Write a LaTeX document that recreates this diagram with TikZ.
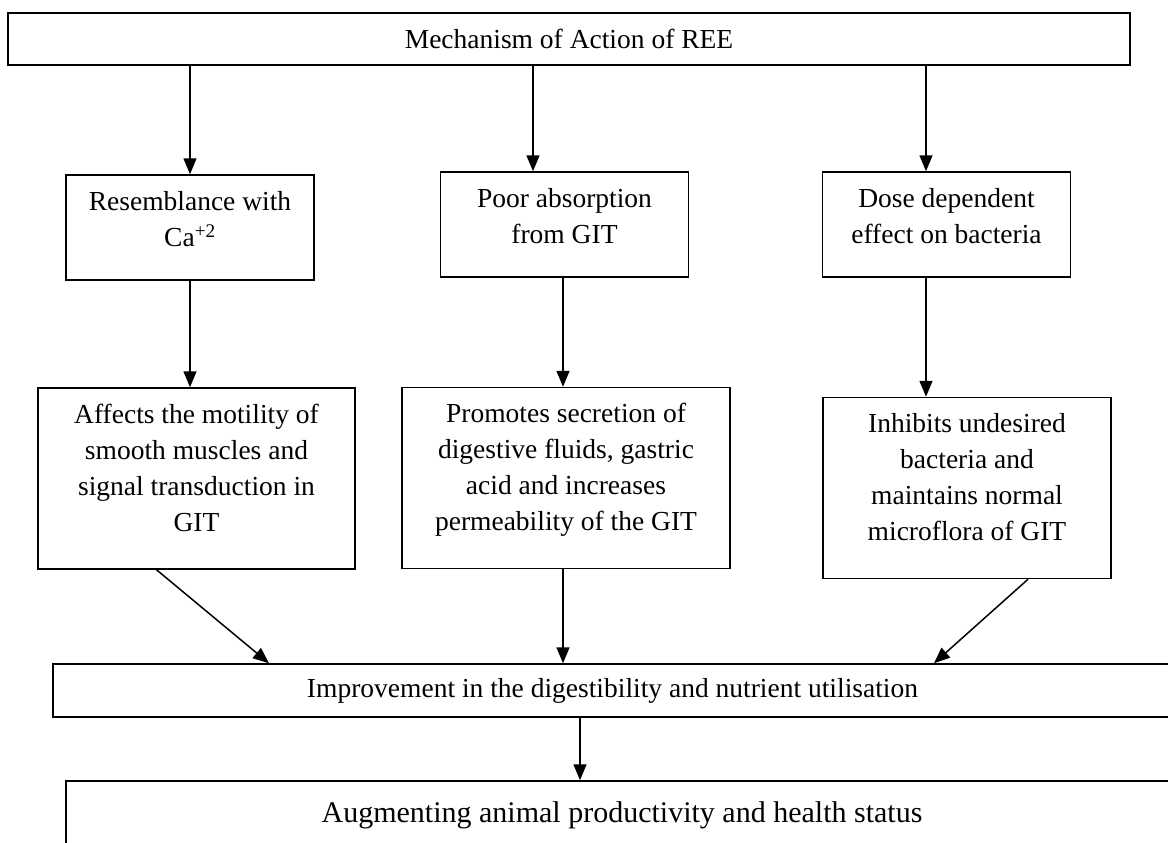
\documentclass[tikz,border=0pt]{standalone}
\usepackage{fontspec}
\setmainfont{Liberation Serif}
\usetikzlibrary{arrows.meta}
\tikzset{
  basebox/.style={draw, rectangle, line width=1.5pt, inner sep=4pt, align=center, font=\fontsize{27.5}{36}\selectfont},
  headnode/.style={basebox, minimum width=1122, minimum height=52},
  causenode/.style={basebox, minimum width=248, minimum height=105, text depth=17},
  effectnode/.style={basebox, minimum height=181, text depth=22},
  resultnode/.style={basebox, minimum width=1119, minimum height=53},
  finalnode/.style={basebox, minimum width=1112, minimum height=69, font=\fontsize{30}{36}\selectfont},
  arrow/.style={-{Triangle[length=16pt, width=13pt]}, line width=1.5pt}
}

\begin{document}
\begin{tikzpicture}[x=1pt, y=-1pt]
\useasboundingbox (0,0) rectangle (1168,843);
\clip (0,0) rectangle (1168,843);

% Nodes
\node[headnode] (REE) at (569,39) {Mechanism of Action of REE};

\node[causenode] (calcium) at (190,227.5) {Resemblance with\\ Ca\textsuperscript{+2}};
\node[causenode] (absorb) at (564.5,224.5) {Poor absorption\\ from GIT};
\node[causenode] (dose) at (946.5,224.5) {Dose dependent\\ effect on bacteria};

\node[effectnode, minimum width=317] (motility) at (196.5,478.5) {Affects the motility of\\ smooth muscles and\\ signal transduction in\\ GIT};
\node[effectnode, minimum width=328] (secretion) at (566,478) {Promotes secretion of\\ digestive fluids, gastric\\ acid and increases\\ permeability of the GIT};
\node[effectnode, minimum width=288] (flora) at (967,488) {Inhibits undesired\\ bacteria and\\ maintains normal\\ microflora of GIT};

\node[resultnode] (digest) at (612.5,690.5) {Improvement in the digestibility and nutrient utilisation};
\node[finalnode] (health) at (622,815.5) {Augmenting animal productivity and health status};

% Connections
\coordinate (absorbIn) at ([xshift=-31.5]absorb.north);
\coordinate (doseIn) at ([xshift=-20.5]dose.north);
\draw[arrow] (REE.south -| calcium.north) -- (calcium.north);
\draw[arrow] (REE.south -| absorbIn) -- (absorbIn);
\draw[arrow] (REE.south -| doseIn) -- (doseIn);

\draw[arrow] (calcium.south) -- (calcium.south |- motility.north);
\draw[arrow] ([xshift=-1.5]absorb.south) -- ([xshift=-1.5]absorb.south |- secretion.north);
\draw[arrow] ([xshift=-20.5]dose.south) -- ([xshift=-20.5]dose.south |- flora.north);

\draw[arrow] ([xshift=-40]motility.south) -- ([xshift=-343.5]digest.north);
\draw[arrow] ([xshift=-3]secretion.south) -- ([xshift=-49.5]digest.north);
\draw[arrow] ([xshift=61]flora.south) -- ([xshift=321.5]digest.north);

\draw[arrow] ([xshift=-32.5]digest.south) -- ([xshift=-32.5]digest.south |- health.north);

\end{tikzpicture}
\end{document}
